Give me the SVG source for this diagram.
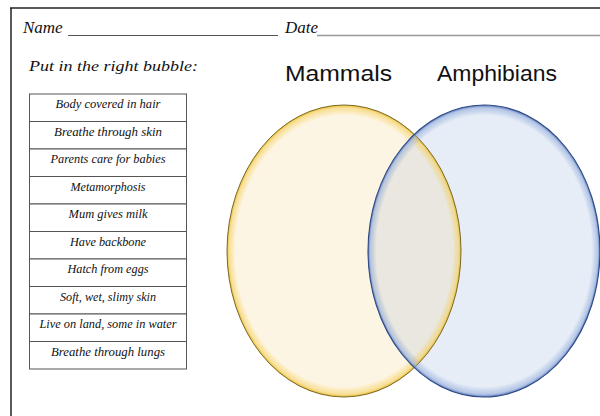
<svg xmlns="http://www.w3.org/2000/svg" width="600" height="416" viewBox="0 0 600 416">
<style>
.hand{font-family:"Liberation Serif","DejaVu Serif",serif;font-style:italic;fill:#111}
.cell{font-size:11.5px;text-anchor:middle}
.title{font-family:"Liberation Sans",Arial,sans-serif;font-size:22px;fill:#111}
.row{fill:#fff;stroke:#555;stroke-width:1}
</style>
<defs>
<radialGradient id="yEdge" cx="0.5" cy="0.5" r="0.5">
<stop offset="0" stop-color="#f5c83c" stop-opacity="0"/>
<stop offset="0.93" stop-color="#f5c83c" stop-opacity="0"/>
<stop offset="0.98" stop-color="#f3cf5a" stop-opacity="0.55"/>
<stop offset="1" stop-color="#e8b420" stop-opacity="0.95"/>
</radialGradient>
<radialGradient id="bEdge" cx="0.5" cy="0.5" r="0.5">
<stop offset="0" stop-color="#7f9bd0" stop-opacity="0"/>
<stop offset="0.93" stop-color="#7f9bd0" stop-opacity="0"/>
<stop offset="0.98" stop-color="#8ea8da" stop-opacity="0.55"/>
<stop offset="1" stop-color="#4f6fb0" stop-opacity="0.95"/>
</radialGradient>
<clipPath id="blueClip"><ellipse cx="484" cy="251" rx="116" ry="146"/></clipPath>
</defs>

<g id="frame">
<line x1="10" y1="8" x2="600" y2="8" stroke="#222" stroke-width="1.5"/>
<line x1="11" y1="8" x2="11" y2="416" stroke="#222" stroke-width="1.5"/>
</g>

<g id="header">
<text class="hand" x="23" y="33" font-size="17">Name</text>
<line x1="68" y1="35.5" x2="278" y2="35.5" stroke="#555" stroke-width="1"/>
<text class="hand" x="285" y="33" font-size="17">Date</text>
<line x1="317" y1="35.5" x2="600" y2="35.5" stroke="#999" stroke-width="1.3"/>
<text class="hand" x="29" y="71" font-size="15.5" textLength="169" lengthAdjust="spacingAndGlyphs">Put in the right bubble:</text>
</g>

<g id="venn">
<g id="mammals">
<ellipse cx="344" cy="251" rx="117" ry="146" fill="#fdf5e3"/>
</g>
<g id="amphibians">
<ellipse cx="484" cy="251" rx="116" ry="146" fill="#e6edf7"/>
</g>
<g id="overlap">
<ellipse cx="344" cy="251" rx="117" ry="146" fill="#e9e7df" clip-path="url(#blueClip)"/>
</g>
<ellipse cx="344" cy="251" rx="117" ry="146" fill="url(#yEdge)" stroke="#7a6a2a" stroke-width="1"/>
<ellipse cx="484" cy="251" rx="116" ry="146" fill="url(#bEdge)" stroke="#2d4a86" stroke-width="1.1"/>
<text class="title" x="285" y="81" textLength="107" lengthAdjust="spacingAndGlyphs">Mammals</text>
<text class="title" x="437" y="81" textLength="120" lengthAdjust="spacingAndGlyphs">Amphibians</text>
</g>

<g id="table">
<g id="r1"><rect class="row" x="29.5" y="94" width="157" height="27.5"/><text class="hand cell" x="108" y="108" textLength="105" lengthAdjust="spacingAndGlyphs">Body covered in hair</text></g>
<g id="r2"><rect class="row" x="29.5" y="121.5" width="157" height="27.5"/><text class="hand cell" x="108" y="135.5" textLength="108" lengthAdjust="spacingAndGlyphs">Breathe through skin</text></g>
<g id="r3"><rect class="row" x="29.5" y="149" width="157" height="27.5"/><text class="hand cell" x="108" y="163" textLength="115" lengthAdjust="spacingAndGlyphs">Parents care for babies</text></g>
<g id="r4"><rect class="row" x="29.5" y="176.5" width="157" height="27.5"/><text class="hand cell" x="108" y="190.5" textLength="75" lengthAdjust="spacingAndGlyphs">Metamorphosis</text></g>
<g id="r5"><rect class="row" x="29.5" y="204" width="157" height="27.5"/><text class="hand cell" x="108" y="218" textLength="79" lengthAdjust="spacingAndGlyphs">Mum gives milk</text></g>
<g id="r6"><rect class="row" x="29.5" y="231.5" width="157" height="27.5"/><text class="hand cell" x="108" y="245.5" textLength="76" lengthAdjust="spacingAndGlyphs">Have backbone</text></g>
<g id="r7"><rect class="row" x="29.5" y="259" width="157" height="27.5"/><text class="hand cell" x="108" y="273" textLength="81" lengthAdjust="spacingAndGlyphs">Hatch from eggs</text></g>
<g id="r8"><rect class="row" x="29.5" y="286.5" width="157" height="27.5"/><text class="hand cell" x="108" y="300.5" textLength="96" lengthAdjust="spacingAndGlyphs">Soft, wet, slimy skin</text></g>
<g id="r9"><rect class="row" x="29.5" y="314" width="157" height="27.5"/><text class="hand cell" x="108" y="328" textLength="137" lengthAdjust="spacingAndGlyphs">Live on land, some in water</text></g>
<g id="r10"><rect class="row" x="29.5" y="341.5" width="157" height="27.5"/><text class="hand cell" x="108" y="355.5" textLength="114" lengthAdjust="spacingAndGlyphs">Breathe through lungs</text></g>
</g>
</svg>
